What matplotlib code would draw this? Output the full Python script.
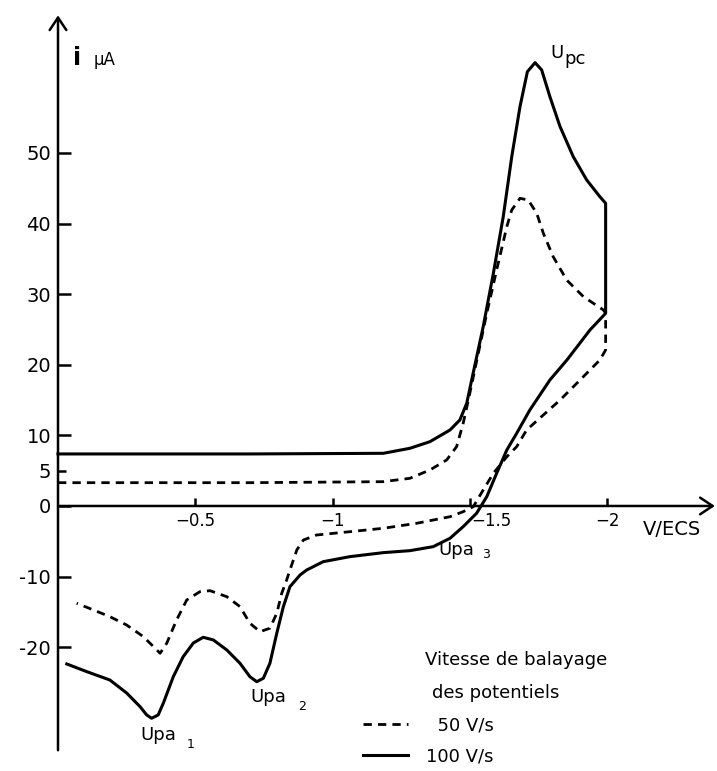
import matplotlib
matplotlib.use('Agg')
import matplotlib.pyplot as plt
from matplotlib.ticker import FixedLocator, FixedFormatter
from matplotlib.transforms import ScaledTranslation

plt.rcParams['font.family'] = ['DejaVu Sans']

# potential (V/ECS) and current (uA), 100 V/s scan: forward then back
e_100 = [0.0, -0.699, -1.185, -1.282, -1.355, -1.428, -1.464, -1.489, -1.507, -1.549,
         -1.586, -1.622, -1.653, -1.683, -1.710, -1.738, -1.762, -1.792, -1.829, -1.877,
         -1.926, -1.974, -1.995, -1.995,
         -1.938, -1.854, -1.792, -1.719, -1.671, -1.635, -1.598, -1.562, -1.525, -1.476,
         -1.428, -1.367, -1.282, -1.185, -1.063, -0.966, -0.906, -0.882, -0.845, -0.821,
         -0.797, -0.772, -0.748, -0.724, -0.699, -0.663, -0.615, -0.566, -0.529, -0.493,
         -0.456, -0.420, -0.384, -0.365, -0.341, -0.323, -0.299, -0.250, -0.189, -0.105,
         -0.032]
i_100 = [7.37, 7.37, 7.46, 8.17, 9.11, 10.76, 12.18, 14.55, 17.85, 25.40,
         32.96, 40.98, 49.48, 56.56, 61.52, 62.79, 61.76, 57.97, 53.73, 49.48,
         46.18, 43.81, 42.88, 27.29,
         24.93, 20.68, 17.85, 13.60, 10.30, 7.93, 4.63, 1.32, -1.03, -2.93,
         -4.58, -5.76, -6.33, -6.61, -7.18, -7.89, -9.07, -9.77, -11.43, -14.26,
         -18.03, -22.28, -24.41, -24.89, -24.18, -22.28, -20.40, -18.98, -18.60, -19.41,
         -21.35, -24.18, -27.90, -29.60, -30.07, -29.60, -28.43, -26.49, -24.65, -23.47,
         -22.38]

# 50 V/s scan
e_50 = [0.0, -0.699, -1.184, -1.282, -1.355, -1.416, -1.452, -1.476, -1.495, -1.562,
        -1.598, -1.635, -1.653, -1.683, -1.713, -1.744, -1.768, -1.804, -1.853, -1.914,
        -1.987, -1.995,
        -1.995, -1.995, -1.974, -1.891, -1.829, -1.707, -1.671, -1.635, -1.586, -1.549,
        -1.513, -1.476, -1.428, -1.307, -1.185, -1.064, -0.942, -0.894, -0.870, -0.845,
        -0.833, -0.815, -0.797, -0.772, -0.736, -0.699, -0.663, -0.615, -0.554, -0.517,
        -0.469, -0.432, -0.396, -0.372, -0.360, -0.311, -0.250, -0.189, -0.129, -0.068]
i_50 = [3.30, 3.30, 3.44, 3.92, 5.10, 6.52, 8.40, 11.71, 15.01, 27.29,
        33.43, 39.56, 41.93, 43.58, 43.34, 41.46, 38.63, 35.31, 32.01, 29.65,
        27.76, 27.29,
        24.5, 22.1, 20.68, 17.42, 15.01, 10.76, 8.40, 6.98, 4.63, 2.27,
        -0.10, -0.81, -1.52, -2.45, -3.16, -3.64, -4.11, -4.82, -6.23, -9.07,
        -10.48, -12.37, -15.20, -17.32, -17.80, -16.61, -14.26, -12.85, -12.00, -12.14,
        -13.31, -16.15, -19.45, -20.86, -20.40, -18.51, -16.86, -15.68, -14.73, -13.78]

x_ticks = [-0.5, -1.0, -1.5, -2.0]
x_labels = ['\u22120.5', '\u22121', '\u22121.5', '\u22122']
y_ticks = [-20, -10, 0, 10, 20, 30, 40, 50]
y_labels = ['-20', '-10', '0', '10', '20', '30', '40', '50']

fig = plt.figure(figsize=(7.17, 7.71), dpi=100)
ax = fig.add_axes([0, 0, 1, 1])
ax.set_xlim(0.2113, -2.4007)
ax.set_ylim(-37.54, 71.67)

l50, = ax.plot(e_50, i_50, color='black', lw=2.0, linestyle=(0, (3, 2.2)),
               dash_joinstyle='round')
l100, = ax.plot(e_100, i_100, color='black', lw=2.2, solid_joinstyle='round')

# axes through the origin
for s in ['top', 'right']:
    ax.spines[s].set_visible(False)
ax.spines['left'].set_position(('data', 0))
ax.spines['bottom'].set_position(('data', 0))
ax.spines['left'].set_color('none')
ax.spines['bottom'].set_color('none')

ax.yaxis.set_major_locator(FixedLocator(y_ticks))
ax.yaxis.set_major_formatter(FixedFormatter(y_labels))
ax.yaxis.set_minor_locator(FixedLocator([5]))
ax.yaxis.set_minor_formatter(FixedFormatter(['5']))
ax.xaxis.set_major_locator(FixedLocator(x_ticks))
ax.xaxis.set_major_formatter(FixedFormatter(x_labels))

ax.tick_params(axis='y', which='major', direction='in', length=9, width=1.8,
               pad=5, labelsize=14)
ax.tick_params(axis='y', which='minor', direction='in', length=6, width=1.8,
               pad=5, labelsize=14)
ax.tick_params(axis='x', direction='in', length=6, width=1.8, pad=4, labelsize=12)

# the -1.5 label sits to the right of its tick, clear of the curves
tick15 = ax.xaxis.get_major_ticks()[2]
tick15.label1.set_transform(tick15.label1.get_transform()
                            + ScaledTranslation(0.22, 0, fig.dpi_scale_trans))

# axis lines with open arrow heads
arrow = dict(arrowstyle='->, head_length=0.45, head_width=0.3', lw=1.8,
             color='black', shrinkA=0, shrinkB=0, mutation_scale=20)
ax.annotate('', xy=(0, 69.5), xytext=(0, -34.6), arrowprops=arrow)
ax.annotate('', xy=(-2.393, 0), xytext=(0, 0), arrowprops=arrow)

# axis titles
ax.text(-0.055, 62.5, 'i', fontsize=17, fontweight='bold')
ax.text(-0.13, 62.5, '\u03bcA', fontsize=12)
ax.text(-2.131, -4.1, 'V/ECS', fontsize=14)

# peak labels
ax.text(-1.792, 63.5, 'U', fontsize=13)
ax.text(-1.845, 62.6, 'pc', fontsize=13)
ax.text(-0.299, -33.1, 'Upa', fontsize=13)
ax.text(-0.470, -34.3, '1', fontsize=9)
ax.text(-0.699, -27.8, 'Upa', fontsize=13)
ax.text(-0.874, -28.9, '2', fontsize=9)
ax.text(-1.384, -6.9, 'Upa', fontsize=13)
ax.text(-1.545, -7.4, '3', fontsize=9)

# legend
ax.text(-1.337, -22.5, 'Vitesse de balayage', fontsize=13)
ax.text(-1.362, -27.2, 'des potentiels', fontsize=13)
ax.legend([l50, l100], ['\u200750 V/s', '100 V/s'], loc='upper left',
          bbox_to_anchor=(0.506, 0.071), frameon=False, fontsize=13,
          handlelength=2.5, handletextpad=1.0, labelspacing=0.75,
          borderpad=0, borderaxespad=0)

fig.savefig('out.png', dpi=100)
